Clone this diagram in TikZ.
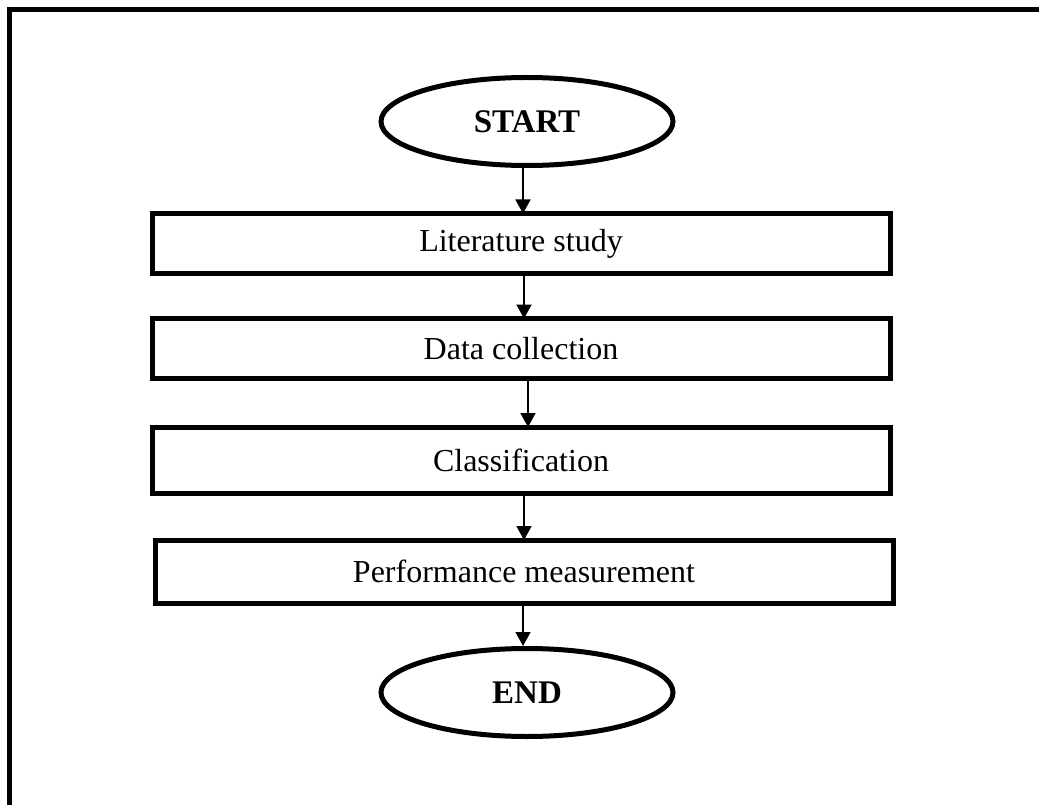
\documentclass[tikz,border=0pt]{standalone}
\usepackage{fontspec}
\setmainfont{Liberation Serif}
\usepackage{tikz}
\usetikzlibrary{shapes.geometric,arrows.meta}

\begin{document}
\begin{tikzpicture}[x=1pt, y=-1pt, ->, >={Triangle[length=14pt,width=15pt]}, line width=1.8pt,
   term/.style={ellipse, draw, line width=5pt, inner sep=0pt, minimum width=292pt, minimum height=88pt, font=\fontsize{33}{37}\selectfont\bfseries},
   stepbox/.style={rectangle, draw, line width=5pt, inner sep=0pt, minimum width=738pt, minimum height=60pt, font=\fontsize{32}{36}\selectfont}]
   \useasboundingbox (0,0) rectangle (1039,805);
   % outer frame, cut at right and bottom
   \draw [-, line width=5pt] (9,805) -- (9,9.5) -- (1039,9.5);

   \node [term] (start) at (527,121.5) {START};
   \node [stepbox] (lit) at (521,243.5) {Literature study};
   \node [stepbox] (data) at (521,348.5) {Data collection};
   \node [stepbox, minimum height=66pt] (class) at (521,460) {Classification};
   \node [stepbox, minimum height=63pt] (perf) at (524,571.5) {Performance measurement};
   \node [term] (end) at (527,692.5) {END};

   \path ([xshift=-4pt]start.south) edge ([xshift=-4pt,yshift=-2.5pt]start.south |- lit.north) ;
   \path ([xshift=3pt]lit.south) edge ([xshift=3pt,yshift=-2.5pt]lit.south |- data.north) ;
   \path ([xshift=7pt]data.south) edge ([xshift=7pt,yshift=-2.5pt]data.south |- class.north) ;
   \path ([xshift=3pt]class.south) edge ([xshift=3pt,yshift=-2.5pt]class.south |- perf.north) ;
   \path ([xshift=-1pt]perf.south) edge ([xshift=-1pt]perf.south |- end.north) ;
\end{tikzpicture}
\end{document}
